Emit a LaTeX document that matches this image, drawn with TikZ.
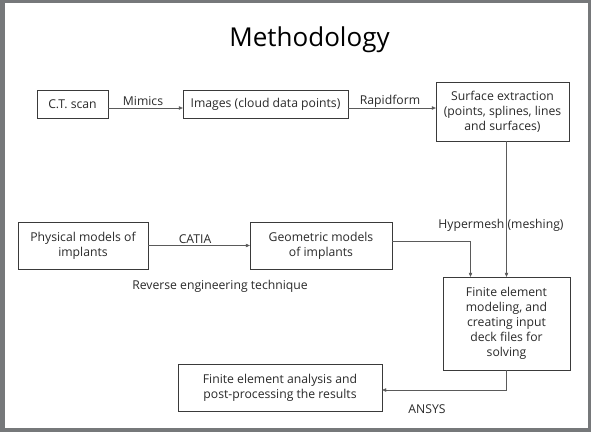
\documentclass[tikz,border=0pt]{standalone}
\usepackage{fontspec}
\setmainfont{Open Sans}
\usepackage{xcolor}
\usetikzlibrary{arrows.meta,calc}

\definecolor{framegray}{HTML}{76787A}
\definecolor{boxline}{HTML}{3A3A3A}
\definecolor{wire}{HTML}{5A5A5A}
\definecolor{txt}{HTML}{2A2A2A}

\tikzset{
    stepbox/.style = {draw=boxline, thin, align=center, inner sep=2pt,
                      text=txt, font=\fontsize{12.2}{15}\selectfont},
    tag/.style     = {text=txt, font=\fontsize{12.2}{15}\selectfont, inner sep=0pt},
    flow/.style    = {draw=wire, thin, -{Triangle[length=4pt,width=3.5pt]}}
}

\begin{document}
\begin{tikzpicture}[x=1pt,y=-1pt]
        % page frame
        \fill[framegray] (0,0) rectangle (591,432);
        \fill[white] (5,3) rectangle (588,428);
        \useasboundingbox (0,0) rectangle (591,432);

        \node[text=black, font=\fontsize{26}{30}\selectfont] (title) at (309.5,40) {Methodology};

        % upper row
        \node[stepbox, minimum width=71pt, minimum height=28pt] (ct) at (72.5,104) {C.T. scan};
        \node[stepbox, minimum width=165pt, minimum height=28pt] (img) at (265.5,104) {Images (cloud data points)};
        \node[stepbox, minimum width=133pt, minimum height=59pt] (surf) at (502.5,111.5)
            {Surface extraction\\(points, splines, lines\\and surfaces)};

        % middle row
        \node[stepbox, minimum width=130pt, minimum height=47pt] (phys) at (83,245.5) {Physical models of\\implants};
        \node[stepbox, minimum width=142pt, minimum height=47pt] (geo) at (321,245.5) {Geometric models\\of implants};
        \node[stepbox, minimum width=127pt, minimum height=93pt] (fe) at (506.5,323.5)
            {Finite element\\modeling, and\\creating input\\deck files for\\solving};

        % lower row
        \node[stepbox, minimum width=204pt, minimum height=47pt] (fea) at (280,387.5)
            {Finite element analysis and\\post-processing the results};

        % connectors
        \coordinate (a1) at ([yshift=-4pt]ct.east);
        \draw[flow] (a1) -- (a1 -| img.west);
        \coordinate (a2) at ([yshift=-4pt]img.east);
        \draw[flow] (a2) -- (a2 -| surf.west);
        \draw[flow] (fe.north |- surf.south) -- (fe.north);
        \draw[flow] (phys.east) -- (geo.west);
        \coordinate (a3) at ([yshift=4.5pt]geo.east);
        \draw[flow] (a3) -| ([xshift=-36pt]fe.north);
        \coordinate (a4) at ([yshift=-2.5pt]fea.east);
        \draw[flow] (fe.south) |- (a4);

        % tool labels
        \node[tag] (mimics) at (143,101) {Mimics};
        \node[tag] (rapid) at (390,101) {Rapidform};
        \node[tag] (hyper) at (501,225) {Hypermesh (meshing)};
        \node[tag] (catia) at (195,239) {CATIA};
        \node[tag] (rev) at (220,286) {Reverse engineering technique};
        \node[tag] (ansys) at (427,409) {ANSYS};
\end{tikzpicture}
\end{document}
